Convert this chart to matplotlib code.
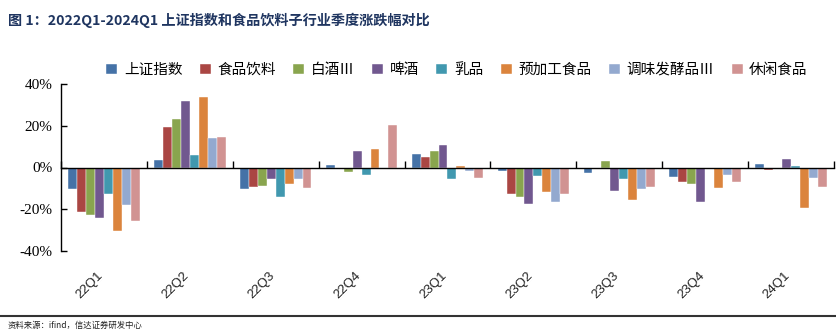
import matplotlib; matplotlib.use("Agg")
import matplotlib.pyplot as plt
import matplotlib.transforms as mtrans
import numpy as np

plt.rcParams["font.family"] = ["Noto Sans CJK SC", "DejaVu Sans"]

quarters = ["22Q1", "22Q2", "22Q3", "22Q4", "23Q1", "23Q2", "23Q3", "23Q4", "24Q1"]
series = ["上证指数", "食品饮料", "白酒Ⅲ", "啤酒", "乳品", "预加工食品", "调味发酵品Ⅲ", "休闲食品"]
sh_index = [-10.2, 3.8, -10.2, 1.4, 6.4, -1.8, -2.4, -4.5, 1.9]
food_bev = [-21.1, 19.2, -9.3, 0.0, 5.1, -12.8, 0.0, -7.0, -1.0]
baijiu = [-22.7, 23.0, -9.0, -2.2, 8.0, -14.1, 3.0, -8.0, 0.0]
beer = [-24.0, 31.7, -5.6, 7.7, 10.6, -17.3, -11.4, -16.6, 4.2]
dairy = [-12.5, 5.8, -14.0, -3.7, -5.4, -4.0, -5.6, -0.8, 0.5]
prepared = [-30.2, 33.9, -8.0, 9.0, 0.6, -11.5, -15.7, -9.6, -19.5]
condiment = [-18.0, 13.9, -5.6, 0.0, -1.6, -16.3, -10.2, -3.7, -5.1]
snacks = [-25.4, 14.7, -9.6, 20.5, -5.1, -12.8, -9.3, -6.9, -9.3]
values = [sh_index, food_bev, baijiu, beer, dairy, prepared, condiment, snacks]
colors = ["#4572A7", "#AA4643", "#89A54E", "#71588F", "#4198AF", "#DB843D", "#93A9CF", "#D19392"]

fig = plt.figure(figsize=(8.37, 3.32), dpi=100)
ax = fig.add_axes([61/837, 1-251/332, (834-61)/837, (251-84)/332])

x = np.arange(len(quarters))
w = 0.104
for i, (name, v, c) in enumerate(zip(series, values, colors)):
    ax.bar(x + (i - 3.5)*w, v, w, color=c, label=name, edgecolor="white", linewidth=0.3)

ax.set_xlim(-0.5, len(quarters) - 0.5)
ax.set_ylim(-40, 40)
ax.set_yticks([-40, -20, 0, 20, 40])
ax.set_yticklabels([f"{t}%" for t in [-40, -20, 0, 20, 40]], family="Liberation Serif", fontsize=11)
ax.tick_params(axis="y", direction="in", length=4, width=1, pad=6)
ax.spines["top"].set_visible(False)
ax.spines["right"].set_visible(False)
ax.spines["left"].set_linewidth(1)
ax.spines["bottom"].set_position(("data", 0))
ax.spines["bottom"].set_linewidth(1)
ax.set_xticks(np.arange(-0.5, len(quarters), 1))
ax.set_xticklabels([])
ax.tick_params(axis="x", direction="in", length=5, width=1)

tr = mtrans.blended_transform_factory(ax.transData, ax.transAxes)
for i, q in enumerate(quarters):
    ax.text(i - 0.08, -0.11, q, transform=tr, rotation=45, ha="right", va="top",
            rotation_mode="anchor", family="Liberation Sans", fontsize=9.5, color="#222222")

fig.legend(loc="center", bbox_to_anchor=(457/837, 1-70/332), ncol=8, frameon=False,
           fontsize=10.5, handlelength=0.75, handleheight=0.75, handletextpad=0.45,
           columnspacing=1.2)

fig.text(8/837, 1-20/332, "图 1：2022Q1-2024Q1 上证指数和食品饮料子行业季度涨跌幅对比",
         fontsize=10.2, fontweight="bold", color="#1F3560", va="center", ha="left")
fig.add_artist(plt.Line2D([0, 1], [1-316/332, 1-316/332], color="#333333", lw=1.5,
                          transform=fig.transFigure))
fig.text(8/837, 1-325/332, "资料来源：ifind，信达证券研发中心", fontsize=6,
         style="italic", color="#222222", va="center", ha="left")

fig.savefig("out.png", dpi=100)
